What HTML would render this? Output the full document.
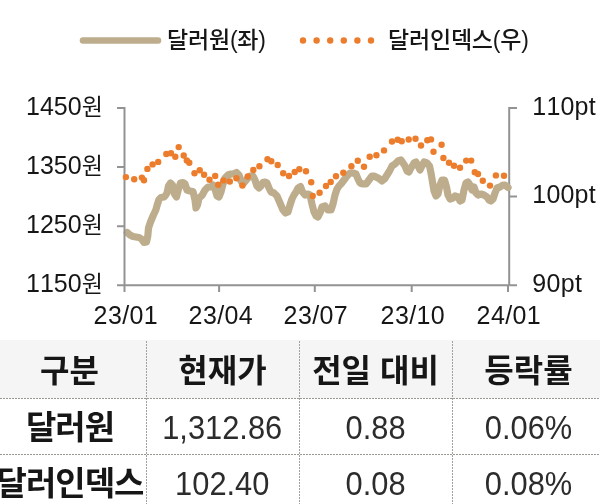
<!DOCTYPE html>
<html><head><meta charset="utf-8"><title>달러원 / 달러인덱스</title>
<style>
html,body{margin:0;padding:0;background:#fff;}
body{width:600px;height:504px;overflow:hidden;position:relative;font-kerning:none;font-family:'Liberation Sans','Noto Sans CJK KR',sans-serif;color:#161616;}
svg{position:absolute;left:0;top:0;}
.lbl{position:absolute;white-space:nowrap;line-height:1;}
.ax{font-size:25px;}
.leg{font-size:23px;font-weight:500;letter-spacing:-0.2px;}
.w{font-size:23px;}
.n{display:inline-block;transform:scaleX(0.92);font-size:33.5px;color:#2c2c2c;}
table{position:absolute;left:-7px;top:340px;border-collapse:collapse;table-layout:fixed;width:612px;}
td{width:153px;text-align:center;padding:0;line-height:1;white-space:nowrap;}
tr.h td{height:58px;box-sizing:border-box;padding-top:3px;background:#f5f5f5;font-weight:700;font-size:32px;}
tr.r td{height:56px;box-sizing:border-box;padding-top:3px;font-size:30px;}
tr.r td.k{font-weight:700;font-size:33px;letter-spacing:-1px;text-indent:1px;}
</style></head><body>
<svg width="600" height="504" viewBox="0 0 600 504">
<g stroke="#939393" stroke-width="2" fill="none">
<path d="M517,108H509.2V285.2M509.2,196.6H517M509.2,285.2H517"/>
<path d="M124.5,285.2H509.2M219.1,285.2V292M314.8,285.2V292M411.7,285.2V292M508,285.2V292"/>
</g>

<polyline points="127.2,232.6 130.0,235.0 133.0,236.5 136.0,237.0 139.0,237.5 141.5,239.0 144.0,242.5 146.5,242.0 147.8,236.0 148.5,228.0 150.5,222.0 153.0,216.0 155.8,210.0 157.5,204.0 159.0,199.5 161.0,197.5 164.0,197.0 165.5,195.5 167.0,193.0 168.5,186.0 170.5,183.0 172.5,185.0 174.5,194.0 176.5,197.0 178.5,189.0 180.5,183.0 183.0,182.5 185.0,184.0 187.0,190.0 190.0,191.0 193.0,191.5 195.0,200.0 196.0,208.0 197.5,205.0 199.0,198.0 202.0,195.5 205.0,190.0 208.0,187.0 211.0,187.0 213.0,185.0 215.0,189.0 217.0,196.0 219.0,197.0 221.0,192.0 223.0,184.0 225.0,178.0 228.0,175.0 231.0,174.0 233.0,174.0 236.5,172.5 239.0,175.0 241.0,181.0 243.0,184.0 245.5,181.0 248.0,178.0 250.0,176.0 253.0,176.0 255.0,180.0 257.0,186.0 259.0,188.0 261.0,186.0 263.0,182.5 265.0,182.0 267.0,183.0 269.0,188.0 271.0,192.0 274.0,193.0 277.0,196.0 280.0,203.0 283.0,210.0 285.5,213.0 288.0,212.0 290.0,205.0 292.0,199.0 294.0,195.0 296.0,192.0 298.0,188.0 300.5,186.5 302.5,192.0 305.0,195.0 308.0,194.0 310.0,195.0 312.0,204.0 314.0,212.0 316.0,216.0 318.0,217.0 320.0,213.0 322.0,207.0 325.0,206.0 328.0,210.0 331.0,210.0 333.0,204.0 335.0,195.0 337.0,189.0 339.0,186.0 341.0,184.0 344.0,180.0 347.0,176.0 350.0,173.0 353.0,173.0 356.0,174.0 358.0,179.0 360.0,183.0 363.0,184.0 366.0,184.0 369.0,180.0 372.0,176.0 374.0,176.0 376.0,177.0 379.0,178.5 382.0,181.0 384.5,179.0 387.0,175.0 389.5,171.0 392.0,166.0 395.0,164.0 398.0,161.0 401.0,160.0 403.0,163.0 405.0,166.0 407.0,171.0 409.0,172.0 411.0,168.0 414.0,163.0 416.0,162.0 418.0,166.0 420.0,170.0 422.0,166.0 424.0,162.0 427.0,163.0 429.5,166.0 431.0,173.0 432.5,182.0 434.0,191.0 436.0,196.0 438.0,194.0 440.0,185.0 442.0,180.0 444.5,180.0 446.5,187.0 448.0,195.0 450.0,199.0 453.0,198.0 455.0,196.0 458.0,197.0 460.0,201.0 462.0,200.0 464.0,190.0 466.0,183.0 468.0,182.0 470.0,185.0 472.0,190.0 474.0,187.0 476.0,193.0 478.0,195.0 481.0,194.0 484.0,195.0 487.0,197.0 489.0,200.0 491.0,201.0 493.0,199.0 495.0,193.0 497.0,188.0 500.0,187.0 503.0,185.0 505.0,185.0 508.0,187.5" fill="none" stroke="#bdad8d" stroke-width="7.2" stroke-linejoin="round" stroke-linecap="round"/>
<g stroke="#939393" stroke-width="2" fill="none">
<path d="M117,108H124.5V292M117,167.1H124.5M117,226.2H124.5M117,285.2H124.5"/>
</g>
<g fill="#ec7d2c">
<circle cx="125.9" cy="177.1" r="3.2"/>
<circle cx="134.2" cy="179.3" r="3.2"/>
<circle cx="141.9" cy="177.6" r="3.2"/>
<circle cx="144" cy="180.3" r="3.2"/>
<circle cx="147.4" cy="168.9" r="3.2"/>
<circle cx="152.6" cy="164.4" r="3.2"/>
<circle cx="158.2" cy="161.9" r="3.2"/>
<circle cx="166.3" cy="154" r="3.2"/>
<circle cx="171" cy="153.2" r="3.2"/>
<circle cx="175.3" cy="156.7" r="3.2"/>
<circle cx="178.7" cy="147.1" r="3.2"/>
<circle cx="183.7" cy="155.5" r="3.2"/>
<circle cx="186.8" cy="160.5" r="3.2"/>
<circle cx="189.3" cy="162.8" r="3.2"/>
<circle cx="194.5" cy="173.3" r="3.2"/>
<circle cx="199.7" cy="170.3" r="3.2"/>
<circle cx="204.1" cy="174.7" r="3.2"/>
<circle cx="209.5" cy="179.7" r="3.2"/>
<circle cx="215.2" cy="176" r="3.2"/>
<circle cx="218.2" cy="184.8" r="3.2"/>
<circle cx="223.4" cy="180.4" r="3.2"/>
<circle cx="229.8" cy="181.5" r="3.2"/>
<circle cx="236.4" cy="178.2" r="3.2"/>
<circle cx="242.4" cy="185.5" r="3.2"/>
<circle cx="247.7" cy="176.5" r="3.2"/>
<circle cx="253.3" cy="170" r="3.2"/>
<circle cx="259.4" cy="166.2" r="3.2"/>
<circle cx="267.5" cy="159.3" r="3.2"/>
<circle cx="271.3" cy="161.2" r="3.2"/>
<circle cx="277.7" cy="165" r="3.2"/>
<circle cx="283.2" cy="173.3" r="3.2"/>
<circle cx="289" cy="176" r="3.2"/>
<circle cx="294.7" cy="172" r="3.2"/>
<circle cx="299.3" cy="169.3" r="3.2"/>
<circle cx="306" cy="171.3" r="3.2"/>
<circle cx="311.2" cy="182.2" r="3.2"/>
<circle cx="312.7" cy="196" r="3.2"/>
<circle cx="319.6" cy="192.7" r="3.2"/>
<circle cx="326" cy="186" r="3.2"/>
<circle cx="330.7" cy="182" r="3.2"/>
<circle cx="336" cy="176.3" r="3.2"/>
<circle cx="343.3" cy="172.7" r="3.2"/>
<circle cx="351.4" cy="166.2" r="3.2"/>
<circle cx="357.8" cy="160.7" r="3.2"/>
<circle cx="364" cy="166.7" r="3.2"/>
<circle cx="369.7" cy="156.7" r="3.2"/>
<circle cx="376.4" cy="155.3" r="3.2"/>
<circle cx="384" cy="150.4" r="3.2"/>
<circle cx="392" cy="141.5" r="3.2"/>
<circle cx="397.7" cy="139.7" r="3.2"/>
<circle cx="401.7" cy="141.3" r="3.2"/>
<circle cx="408.7" cy="139.5" r="3.2"/>
<circle cx="415.5" cy="138.8" r="3.2"/>
<circle cx="421" cy="145.5" r="3.2"/>
<circle cx="427.3" cy="140.2" r="3.2"/>
<circle cx="431" cy="139.4" r="3.2"/>
<circle cx="433.5" cy="151.8" r="3.2"/>
<circle cx="441.6" cy="144.7" r="3.2"/>
<circle cx="443.4" cy="158" r="3.2"/>
<circle cx="449" cy="162.7" r="3.2"/>
<circle cx="454" cy="165.8" r="3.2"/>
<circle cx="460" cy="167.8" r="3.2"/>
<circle cx="466.2" cy="160.6" r="3.2"/>
<circle cx="471.2" cy="160.6" r="3.2"/>
<circle cx="474.8" cy="172.2" r="3.2"/>
<circle cx="478" cy="174" r="3.2"/>
<circle cx="482.8" cy="180.7" r="3.2"/>
<circle cx="490" cy="185.6" r="3.2"/>
<circle cx="495.9" cy="175.4" r="3.2"/>
<circle cx="504" cy="175.8" r="3.2"/>
</g>
<line x1="83" y1="40.5" x2="158" y2="40.5" stroke="#bdad8d" stroke-width="6.5" stroke-linecap="round"/>
<g fill="#ec7d2c">
<circle cx="303.0" cy="40.5" r="3.2"/>
<circle cx="316.6" cy="40.5" r="3.2"/>
<circle cx="330.2" cy="40.5" r="3.2"/>
<circle cx="343.8" cy="40.5" r="3.2"/>
<circle cx="357.4" cy="40.5" r="3.2"/>
<circle cx="371.0" cy="40.5" r="3.2"/>
</g>
</svg>
<svg width="600" height="504" viewBox="0 0 600 504" style="z-index:2">
<g stroke="#9a978f" stroke-width="1" stroke-dasharray="2 1" fill="none">
<path d="M0,398.5H600M0,454.5H600"/>
<path stroke="#a3a19c" d="M146.5,341V504M299.5,341V504M452.5,341V504"/>
</g>
</svg>
<div class="lbl leg" style="left:167px;top:28.5px">달러원(좌)</div>
<div class="lbl leg" style="left:388px;top:28.5px">달러인덱스(우)</div>
<div class="lbl ax" style="left:26px;top:94px">1450<span class="w">원</span></div>
<div class="lbl ax" style="left:26px;top:153px">1350<span class="w">원</span></div>
<div class="lbl ax" style="left:26px;top:212px">1250<span class="w">원</span></div>
<div class="lbl ax" style="left:26px;top:271px">1150<span class="w">원</span></div>
<div class="lbl ax" style="left:532.3px;top:94px;letter-spacing:0.2px">110pt</div>
<div class="lbl ax" style="left:532.3px;top:182px;letter-spacing:0.2px">100pt</div>
<div class="lbl ax" style="left:532.3px;top:271px;letter-spacing:0.3px">90pt</div>
<div class="lbl ax" style="left:93.6px;top:303px;letter-spacing:0.4px">23/01</div>
<div class="lbl ax" style="left:188.6px;top:303px;letter-spacing:0.4px">23/04</div>
<div class="lbl ax" style="left:283.6px;top:303px;letter-spacing:0.4px">23/07</div>
<div class="lbl ax" style="left:380.6px;top:303px;letter-spacing:0.4px">23/10</div>
<div class="lbl ax" style="left:476.6px;top:303px;letter-spacing:0.4px">24/01</div>
<table>
<tr class="h"><td>구분</td><td>현재가</td><td>전일 대비</td><td>등락률</td></tr>
<tr class="r"><td class="k">달러원</td><td><span class="n">1,312.86</span></td><td><span class="n">0.88</span></td><td><span class="n">0.06%</span></td></tr>
<tr class="r"><td class="k">달러인덱스</td><td><span class="n">102.40</span></td><td><span class="n">0.08</span></td><td><span class="n">0.08%</span></td></tr>
</table>
</body></html>
